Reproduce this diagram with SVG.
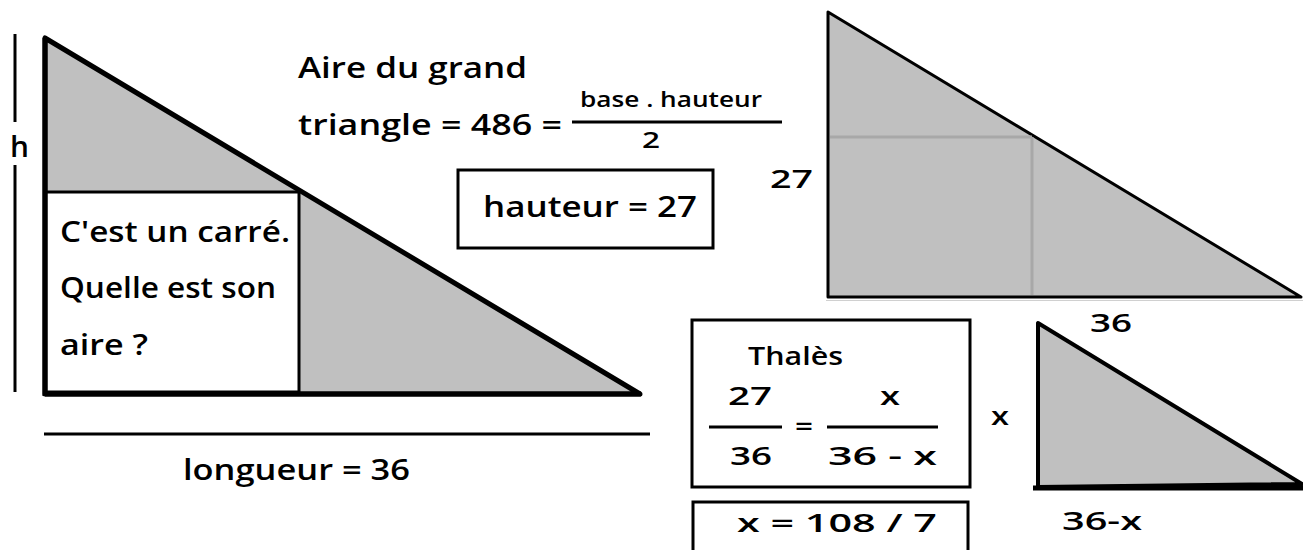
<svg xmlns="http://www.w3.org/2000/svg" width="1303" height="550" viewBox="0 0 1303 550">
<style>
text{font-family:"Open Sans","DejaVu Sans",sans-serif;fill:#000;font-weight:600}
.t{font-size:28px}
.s{font-size:22px}
.m{font-size:25px}
.ln{stroke:#000;fill:none}
.box{fill:#fff;stroke:#000;stroke-width:3}
.tri{fill:#c0c0c0;stroke:#000;stroke-linejoin:round}
</style>
<rect width="1303" height="550" fill="#fff"/>

<g id="big-triangle">
<polygon class="tri" points="45,38 45,394 640,394" stroke-width="5"/>
<rect class="box" x="46" y="192" width="253" height="200"/>
<line class="ln" x1="45" y1="394" x2="641" y2="394" stroke-width="5"/>
<line class="ln" x1="45" y1="38" x2="45" y2="396" stroke-width="5"/>
<text class="t" x="60" y="242" textLength="230" lengthAdjust="spacingAndGlyphs">C'est un carré.</text>
<text class="t" x="60" y="298" textLength="216" lengthAdjust="spacingAndGlyphs">Quelle est son</text>
<text class="t" x="60" y="355" textLength="88" lengthAdjust="spacingAndGlyphs">aire ?</text>
</g>

<g id="h-dimension">
<line class="ln" x1="15" y1="34" x2="15" y2="122" stroke-width="3"/>
<line class="ln" x1="15" y1="165" x2="15" y2="392" stroke-width="3"/>
<text class="t" x="10" y="157" textLength="19" lengthAdjust="spacingAndGlyphs">h</text>
</g>

<g id="longueur">
<line class="ln" x1="44" y1="434" x2="650" y2="434" stroke-width="3"/>
<text class="t" x="183" y="480" textLength="227" lengthAdjust="spacingAndGlyphs">longueur = 36</text>
</g>

<g id="aire">
<text class="t" x="298" y="78" textLength="229" lengthAdjust="spacingAndGlyphs">Aire du grand</text>
<text class="t" x="298" y="135" textLength="264" lengthAdjust="spacingAndGlyphs">triangle = 486 =</text>
<text class="s" x="580" y="107" textLength="182" lengthAdjust="spacingAndGlyphs">base . hauteur</text>
<line class="ln" x1="572" y1="122" x2="782" y2="122" stroke-width="3"/>
<text class="s" x="642" y="148" textLength="18" lengthAdjust="spacingAndGlyphs">2</text>
</g>

<g id="hauteur-box">
<rect class="box" x="458" y="170" width="255" height="78"/>
<text class="t" x="483" y="217" textLength="214" lengthAdjust="spacingAndGlyphs">hauteur = 27</text>
</g>

<g id="right-triangle">
<polygon class="tri" points="828,12 828,297 1301,297" stroke-width="3"/>
<line x1="830" y1="137" x2="1032" y2="137" stroke="#a8a8a8" stroke-width="3"/>
<line x1="1032" y1="137" x2="1032" y2="295" stroke="#a8a8a8" stroke-width="3"/>
<line x1="826" y1="300.5" x2="1303" y2="300.5" stroke="#d0d0d0" stroke-width="1"/>
<text class="m" x="770" y="188" textLength="43" lengthAdjust="spacingAndGlyphs">27</text>
<text class="m" x="1090" y="332" textLength="42" lengthAdjust="spacingAndGlyphs">36</text>
</g>

<g id="thales-box">
<rect class="box" x="692" y="320" width="278" height="167"/>
<text class="m" x="748" y="365" textLength="95" lengthAdjust="spacingAndGlyphs">Thalès</text>
<text class="m" x="728" y="405" textLength="44" lengthAdjust="spacingAndGlyphs">27</text>
<line class="ln" x1="709" y1="427" x2="782" y2="427" stroke-width="3"/>
<text class="m" x="730" y="465" textLength="42" lengthAdjust="spacingAndGlyphs">36</text>
<text class="m" x="795" y="435" textLength="18" lengthAdjust="spacingAndGlyphs">=</text>
<text class="m" x="880" y="405" textLength="20" lengthAdjust="spacingAndGlyphs">x</text>
<line class="ln" x1="827" y1="427" x2="938" y2="427" stroke-width="3"/>
<text class="m" x="828" y="465" textLength="109" lengthAdjust="spacingAndGlyphs">36 - x</text>
</g>

<g id="result-box">
<rect class="box" x="693" y="502" width="275" height="60"/>
<text class="m" x="737" y="532" textLength="200" lengthAdjust="spacingAndGlyphs">x = 108 / 7</text>
</g>

<g id="small-triangle">
<polygon class="tri" points="1038,323 1038,487 1302,484" stroke-width="4"/>
<line class="ln" x1="1033" y1="488" x2="1303" y2="488" stroke-width="5"/>
<text class="m" x="991" y="425" textLength="18" lengthAdjust="spacingAndGlyphs">x</text>
<text class="m" x="1062" y="530" textLength="80" lengthAdjust="spacingAndGlyphs">36-x</text>
</g>
</svg>
